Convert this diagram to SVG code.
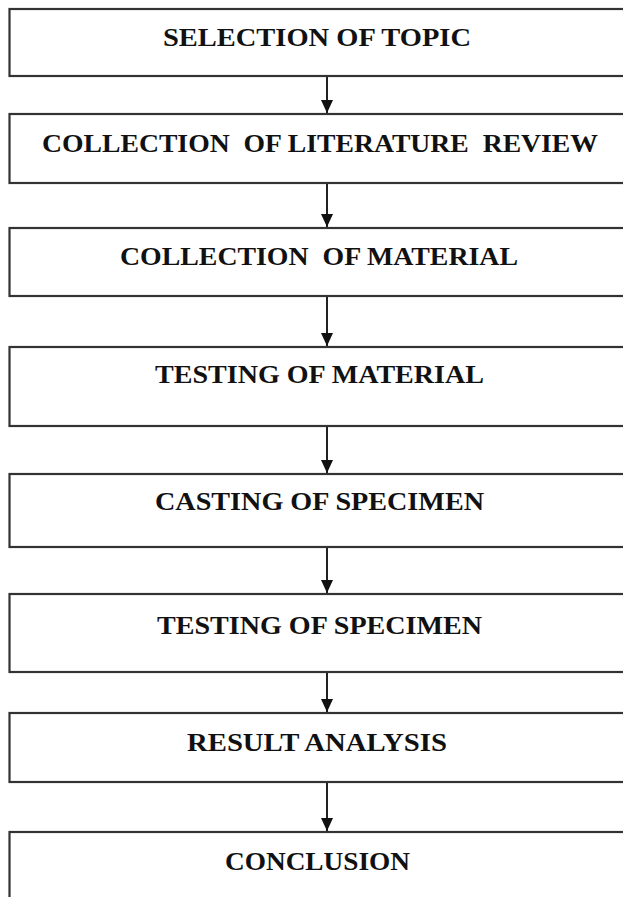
<svg xmlns="http://www.w3.org/2000/svg" width="623" height="897" viewBox="0 0 623 897">
<defs>
<style>
.box{fill:#fff;stroke:#333;stroke-width:2.2}
.lbl{font-family:"Liberation Serif","Times New Roman",serif;font-weight:bold;font-size:26px;fill:#111;text-anchor:middle}
.conn line{stroke:#222;stroke-width:2}
</style>
<marker id="ah" viewBox="0 0 13 12" refX="13" refY="6" markerWidth="13" markerHeight="12" markerUnits="userSpaceOnUse" orient="auto">
<path d="M0,0 L13,6 L0,12 Z" fill="#111"/>
</marker>
</defs>
<rect width="623" height="897" fill="#fff"/>
<g id="n1"><rect class="box" x="9.5" y="9" width="640" height="67"/><text class="lbl" x="317" y="46" textLength="308" lengthAdjust="spacingAndGlyphs">SELECTION OF TOPIC</text></g>
<g id="n2"><rect class="box" x="9.5" y="114" width="640" height="69"/><text class="lbl" x="320" y="152" textLength="556" lengthAdjust="spacingAndGlyphs" xml:space="preserve">COLLECTION  OF LITERATURE  REVIEW</text></g>
<g id="n3"><rect class="box" x="9.5" y="228" width="640" height="68"/><text class="lbl" x="319" y="265" textLength="398" lengthAdjust="spacingAndGlyphs" xml:space="preserve">COLLECTION  OF MATERIAL</text></g>
<g id="n4"><rect class="box" x="9.5" y="347" width="640" height="79"/><text class="lbl" x="319.5" y="383" textLength="329" lengthAdjust="spacingAndGlyphs">TESTING OF MATERIAL</text></g>
<g id="n5"><rect class="box" x="9.5" y="474" width="640" height="73"/><text class="lbl" x="319.5" y="510" textLength="329" lengthAdjust="spacingAndGlyphs">CASTING OF SPECIMEN</text></g>
<g id="n6"><rect class="box" x="9.5" y="594" width="640" height="78"/><text class="lbl" x="319.5" y="634" textLength="325" lengthAdjust="spacingAndGlyphs">TESTING OF SPECIMEN</text></g>
<g id="n7"><rect class="box" x="9.5" y="713" width="640" height="69"/><text class="lbl" x="317" y="751" textLength="260" lengthAdjust="spacingAndGlyphs">RESULT ANALYSIS</text></g>
<g id="n8"><rect class="box" x="9.5" y="832" width="640" height="100"/><text class="lbl" x="317.5" y="870" textLength="185" lengthAdjust="spacingAndGlyphs">CONCLUSION</text></g>
<g id="connectors" class="conn">
<line x1="327" y1="77" x2="327" y2="113" marker-end="url(#ah)"/>
<line x1="327" y1="184" x2="327" y2="227" marker-end="url(#ah)"/>
<line x1="327" y1="297" x2="327" y2="346" marker-end="url(#ah)"/>
<line x1="327" y1="427" x2="327" y2="473" marker-end="url(#ah)"/>
<line x1="327" y1="548" x2="327" y2="593" marker-end="url(#ah)"/>
<line x1="327" y1="673" x2="327" y2="712" marker-end="url(#ah)"/>
<line x1="327" y1="783" x2="327" y2="831" marker-end="url(#ah)"/>
</g>
</svg>
